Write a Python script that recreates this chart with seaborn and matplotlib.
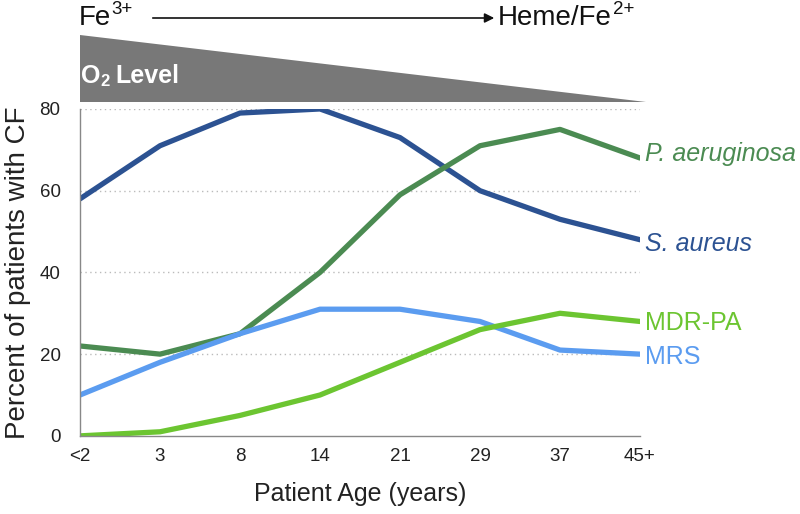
import matplotlib
matplotlib.use("Agg")
import matplotlib.pyplot as plt
from matplotlib.patches import Polygon, FancyArrowPatch
import seaborn as sns
import pandas as pd

ages = ["<2", "3", "8", "14", "21", "29", "37", "45+"]
s_aureus = [58, 71, 79, 80, 73, 60, 53, 48]
p_aeruginosa = [22, 20, 25, 40, 59, 71, 75, 68]
mrs = [10, 18, 25, 31, 31, 28, 21, 20]
mdr_pa = [0, 1, 5, 10, 18, 26, 30, 28]

series_names = ["S. aureus", "P. aeruginosa", "MRS", "MDR-PA"]
colors = ["#2c5292", "#4b8b52", "#5b9cf0", "#6cc531"]

rows = []
for name, vals in zip(series_names, [s_aureus, p_aeruginosa, mrs, mdr_pa]):
    for i, v in enumerate(vals):
        rows.append({"pos": i, "value": v, "series": name})
df = pd.DataFrame(rows)

sns.set_theme(style="white")
plt.rcParams["font.family"] = ["Liberation Sans", "DejaVu Sans"]

fig = plt.figure(figsize=(8, 5.14), dpi=100)
ax = fig.add_axes([0.1, 0.152, 0.7, 0.636])

sns.lineplot(data=df, x="pos", y="value", hue="series", hue_order=series_names,
             palette=colors, linewidth=3.8, ax=ax, legend=False)

ax.set_xlim(0, len(ages) - 1)
ax.set_ylim(0, 80)
ax.set_xticks(range(len(ages)))
ax.set_xticklabels(ages, fontsize=13.5, color="#222222")
ax.set_yticks([0, 20, 40, 60, 80])
ax.set_yticklabels(["0", "20", "40", "60", "80"], fontsize=13.5, color="#222222")
ax.tick_params(axis="x", length=0, pad=9)
ax.tick_params(axis="y", length=0, pad=14)
ax.set_xlabel("Patient Age (years)", fontsize=18, color="#222222", labelpad=12)
ax.set_ylabel("Percent of patients with CF", fontsize=20, color="#222222", labelpad=6)

for yv in [20, 40, 60, 80]:
    ax.axhline(yv, color="#bbbbbb", linestyle=(0, (1, 2.5)), linewidth=1, zorder=0)

for s in ["top", "right"]:
    ax.spines[s].set_visible(False)
for s in ["left", "bottom"]:
    ax.spines[s].set_color("#888888")
    ax.spines[s].set_linewidth(1)

# End labels
last = len(ages) - 1
lx = last + 0.06
ax.text(lx, p_aeruginosa[-1] + 1, "P. aeruginosa", color=colors[1], fontsize=18,
        style="italic", va="center", ha="left", clip_on=False)
ax.text(lx, s_aureus[-1] - 1, "S. aureus", color=colors[0], fontsize=18,
        style="italic", va="center", ha="left", clip_on=False)
ax.text(lx, mdr_pa[-1] - 0.3, "MDR-PA", color=colors[3], fontsize=18,
        va="center", ha="left", clip_on=False)
ax.text(lx, mrs[-1] - 0.8, "MRS", color=colors[2], fontsize=18,
        va="center", ha="left", clip_on=False)

# O2 triangle in figure coords
W, H = 800, 514
def fc(x, y):
    return (x / W, 1 - y / H)
tri = Polygon([fc(80, 35), fc(80, 102), fc(646, 102)], closed=True,
              facecolor="#787878", edgecolor="none", transform=fig.transFigure)
fig.patches.append(tri)
fig.text(*fc(81, 76), "O", color="white", fontsize=18, fontweight="bold",
         va="center", ha="left")
fig.text(*fc(100, 82), "2", color="white", fontsize=12, fontweight="bold",
         va="center", ha="left")
fig.text(*fc(115, 76), "Level", color="white", fontsize=18, fontweight="bold",
         va="center", ha="left")

# Fe arrow
fig.text(*fc(79, 18), "Fe", fontsize=20, color="#111111", va="center", ha="left")
fig.text(*fc(111, 10), "3+", fontsize=13.5, color="#111111", va="center", ha="left")
fig.text(*fc(498, 18), "Heme/Fe", fontsize=20, color="#111111", va="center", ha="left")
fig.text(*fc(613, 10), "2+", fontsize=13.5, color="#111111", va="center", ha="left")
fig.add_artist(FancyArrowPatch(fc(150, 18), fc(497, 18),
               transform=fig.transFigure, arrowstyle="-|>", mutation_scale=14,
               color="#111111", linewidth=1.2))

fig.savefig("out.png", dpi=100)
